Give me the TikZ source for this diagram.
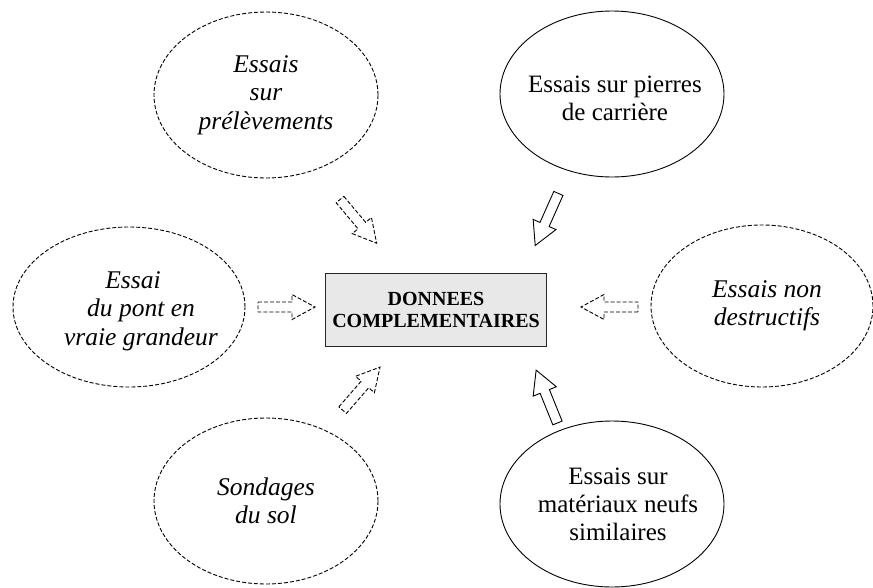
\documentclass[tikz,border=0pt]{standalone}
\usepackage{fontspec}
\setmainfont{Liberation Serif}
\usetikzlibrary{shapes.geometric}
\begin{document}
\begin{tikzpicture}[x=1pt,y=-1pt,
  ell/.style={ellipse,draw=black,line width=0.9pt,inner sep=0pt,minimum width=224pt,minimum height=166pt},
  dsh/.style={dash pattern=on 4pt off 2pt},
  etxt/.style={align=center,font=\fontsize{25}{28}\selectfont},
  itxt/.style={align=center,font=\fontsize{25.5}{28.5}\selectfont\itshape},
  boxnode/.style={draw=black!85,fill=black!9,line width=1.1pt,minimum width=221pt,minimum height=73pt,align=center,font=\fontsize{20}{22.5}\selectfont\bfseries},
  blockarrow/.style={draw=black,line width=0.9pt,line join=miter}
]
\useasboundingbox (0,0) rectangle (873,587);

\node[boxnode] (box) at (436,310) {DONNEES\\COMPLEMENTAIRES};

\node[ell,dsh] (e1) at (266,95) {};
\node[itxt] (t1) at (e1) {Essais\\sur\\prélèvements};

\node[ell] (e2) at (612,94) {};
\node[etxt] (t2) at ([xshift=3pt,yshift=-4pt]e2) {Essais sur pierres\\de carrière};

\node[ell,dsh,minimum width=232pt,minimum height=160pt] (e3) at (129,307) {};
\node[itxt] (t3) at ([xshift=12pt,yshift=-4pt]e3) {Essai\hspace*{16pt}\\du pont en\\vraie grandeur};

\node[ell,dsh,minimum width=222pt,minimum height=162pt] (e4) at (762,306) {};
\node[itxt] (t4) at ([xshift=5pt]e4) {Essais non\\destructifs};

\node[ell,dsh] (e5) at (266,501) {};
\node[itxt] (t5) at (e5) {Sondages\\du sol};

\node[ell] (e6) at (612,504) {};
\node[etxt] (t6) at ([xshift=6pt]e6) {Essais sur\\matériaux neufs\\similaires};

% block arrows: centre coordinates, then outline drawn in a rotated frame
\coordinate (a1) at (358,221);
\coordinate (a2) at (547,219);
\coordinate (a3) at (286,307);
\coordinate (a4) at (610,307);
\coordinate (a5) at (361,389);
\coordinate (a6) at (547,397);
\foreach \c/\ang/\sty in {a1/-50/dsh, a2/-114/solid, a3/0/dsh, a4/180/dsh, a5/49/dsh, a6/112/solid}{
  \begin{scope}[shift={(\c)},rotate=\ang]
    \draw[blockarrow,\sty] (-28,-5) -- (6,-5) -- (6,-12.5) -- (29,0) -- (6,12.5) -- (6,5) -- (-28,5) -- cycle;
  \end{scope}
}
\end{tikzpicture}
\end{document}
